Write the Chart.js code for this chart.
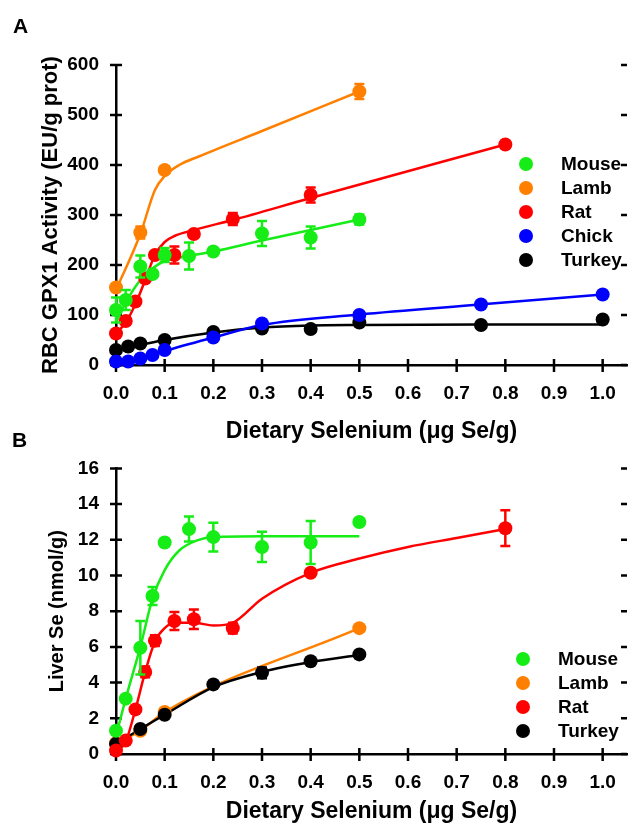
<!DOCTYPE html>
<html>
<head>
<meta charset="utf-8">
<script src="https://cdn.jsdelivr.net/npm/chart.js@4.4.1/dist/chart.umd.min.js"></script>
<style>
  html, body { margin:0; padding:0; background:#fff; }
  body { width:634px; height:828px; position:relative; overflow:hidden;
         font-family:"Liberation Sans", Arial, sans-serif; font-weight:bold; color:#000; }
  .panel { position:absolute; left:0; }
  .tag { position:absolute; font-size:21px; line-height:21px; }
  .legend { position:absolute; left:0; width:634px; font-size:19px; }
  .legend .row { position:relative; height:24px; line-height:24px; }
  .legend .dot { position:absolute; top:5px; width:14px; height:14px; border-radius:50%; }
  .legend .name { position:absolute; top:0; }
</style>
</head>
<body>
<div class="panel" style="top:0"><canvas id="chartA" width="634" height="452"></canvas></div>
<div class="panel" style="top:440px"><canvas id="chartB" width="634" height="388"></canvas></div>
<div class="tag" style="left:13px;top:15px">A</div>
<div class="tag" style="left:12px;top:429px">B</div>
<div class="legend" id="legendA" style="top:152px"></div>
<div class="legend" id="legendB" style="top:647px"></div>

<script>
'use strict';

// x ticks (µg Se/g)
const xTicks = [0, 0.1, 0.2, 0.3, 0.4, 0.5, 0.6, 0.7, 0.8, 0.9, 1.0];

// ---- Panel A : RBC GPX1 activity (EU/g prot) ----
const mouseA_x   = [0, 0.02, 0.05, 0.075, 0.1, 0.15, 0.2, 0.3, 0.4, 0.5];
const mouseA_y   = [110, 130, 197, 182, 220, 218, 227, 263, 255, 291];
const mouseA_err = [25, 20, 22, 0, 14, 27, 0, 25, 22, 10];
const mouseA_fitX = [0, 0.02, 0.05, 0.075, 0.1, 0.15, 0.2, 0.3, 0.4, 0.5];
const mouseA_fitY = [85, 125, 170, 193, 208, 218, 227, 249, 270, 291];

const lambA_x   = [0, 0.05, 0.1, 0.5];
const lambA_y   = [155, 265, 390, 547];
const lambA_err = [0, 12, 0, 15];
const lambA_fitX = [0, 0.05, 0.08, 0.1, 0.13, 0.17, 0.3, 0.5];
const lambA_fitY = [150, 262, 350, 378, 400, 417, 468, 547];

const ratA_x   = [0, 0.02, 0.04, 0.06, 0.08, 0.12, 0.16, 0.24, 0.4, 0.8];
const ratA_y   = [63, 88, 127, 173, 220, 220, 262, 292, 340, 441];
const ratA_err = [0, 0, 0, 0, 0, 17, 0, 12, 15, 6];
const ratA_fitX = [0, 0.02, 0.04, 0.06, 0.08, 0.1, 0.12, 0.16, 0.24, 0.4, 0.8];
const ratA_fitY = [63, 85, 122, 170, 220, 246, 258, 270, 290, 334, 441];

const chickA_x   = [0, 0.025, 0.05, 0.075, 0.1, 0.2, 0.3, 0.5, 0.75, 1.0];
const chickA_y   = [7, 7, 13, 20, 30, 55, 83, 100, 121, 141];
const chickA_err = [0, 0, 0, 0, 0, 0, 0, 0, 0, 0];
const chickA_fitX = [0, 0.05, 0.1, 0.2, 0.3, 0.5, 0.75, 1.0];
const chickA_fitY = [5, 12, 28, 55, 80, 101, 121, 141];

const turkeyA_x   = [0, 0.025, 0.05, 0.1, 0.2, 0.3, 0.4, 0.5, 0.75, 1.0];
const turkeyA_y   = [30, 37, 43, 50, 66, 73, 72, 85, 80, 91];
const turkeyA_err = [0, 0, 0, 0, 0, 0, 0, 0, 0, 0];
const turkeyA_fitX = [0, 0.05, 0.1, 0.2, 0.3, 0.4, 0.5, 0.75, 1.0];
const turkeyA_fitY = [30, 40, 50, 65, 75, 79, 80, 81, 81];

// ---- Panel B : Liver Se (nmol/g) ----
const mouseB_x   = [0, 0.02, 0.05, 0.075, 0.1, 0.15, 0.2, 0.3, 0.4, 0.5];
const mouseB_y   = [1.3, 3.1, 5.95, 8.85, 11.85, 12.6, 12.15, 11.6, 11.85, 13.0];
const mouseB_err = [0, 0, 1.5, 0.5, 0, 0.7, 0.8, 0.85, 1.2, 0];
const mouseB_fitX = [0, 0.02, 0.05, 0.075, 0.1, 0.13, 0.17, 0.2, 0.3, 0.5];
const mouseB_fitY = [1.0, 3.1, 6.0, 8.7, 10.3, 11.4, 12.0, 12.15, 12.2, 12.2];

const lambB_x   = [0, 0.05, 0.1, 0.5];
const lambB_y   = [0.6, 1.3, 2.35, 7.05];
const lambB_err = [0, 0, 0, 0];
const lambB_fitX = [0, 0.05, 0.1, 0.5];
const lambB_fitY = [0.6, 1.3, 2.35, 7.05];

const ratB_x   = [0, 0.02, 0.04, 0.06, 0.08, 0.12, 0.16, 0.24, 0.4, 0.8];
const ratB_y   = [0.2, 0.75, 2.5, 4.6, 6.35, 7.45, 7.55, 7.05, 10.15, 12.65];
const ratB_err = [0, 0, 0, 0.3, 0.3, 0.5, 0.55, 0.3, 0, 1.0];
const ratB_fitX = [0, 0.02, 0.04, 0.06, 0.08, 0.1, 0.12, 0.16, 0.2, 0.24, 0.3, 0.4, 0.5, 0.6, 0.7, 0.8];
const ratB_fitY = [0.1, 0.7, 2.5, 4.6, 6.3, 7.05, 7.35, 7.35, 7.2, 7.35, 8.7, 10.15, 10.95, 11.6, 12.1, 12.6];

const turkeyB_x   = [0, 0.05, 0.1, 0.2, 0.3, 0.4, 0.5];
const turkeyB_y   = [0.57, 1.4, 2.2, 3.9, 4.55, 5.2, 5.58];
const turkeyB_err = [0, 0, 0, 0, 0.3, 0, 0];
const turkeyB_fitX = [0, 0.05, 0.1, 0.2, 0.3, 0.4, 0.5];
const turkeyB_fitY = [0.55, 1.4, 2.2, 3.75, 4.6, 5.15, 5.55];

const COLORS = { Mouse:'#16ec16', Lamb:'#ff8000', Rat:'#ff0000', Chick:'#0000ff', Turkey:'#000000' };

const seriesA = [
  ['Mouse',  mouseA_x,  mouseA_y,  mouseA_err,  mouseA_fitX,  mouseA_fitY],
  ['Lamb',   lambA_x,   lambA_y,   lambA_err,   lambA_fitX,   lambA_fitY],
  ['Rat',    ratA_x,    ratA_y,    ratA_err,    ratA_fitX,    ratA_fitY],
  ['Chick',  chickA_x,  chickA_y,  chickA_err,  chickA_fitX,  chickA_fitY],
  ['Turkey', turkeyA_x, turkeyA_y, turkeyA_err, turkeyA_fitX, turkeyA_fitY],
];
const seriesB = [
  ['Mouse',  mouseB_x,  mouseB_y,  mouseB_err,  mouseB_fitX,  mouseB_fitY],
  ['Lamb',   lambB_x,   lambB_y,   lambB_err,   lambB_fitX,   lambB_fitY],
  ['Rat',    ratB_x,    ratB_y,    ratB_err,    ratB_fitX,    ratB_fitY],
  ['Turkey', turkeyB_x, turkeyB_y, turkeyB_err, turkeyB_fitX, turkeyB_fitY],
];
// black turkey points sit over the orange lamb ones in B
const drawOrderB = { Mouse:0, Rat:1, Turkey:2, Lamb:3 };

Chart.defaults.font.family = '"Liberation Sans", Arial, sans-serif';
Chart.defaults.font.weight = 'bold';
Chart.defaults.color = '#000';

const pts = (xs, ys) => xs.map((x, i) => ({ x, y: ys[i] }));

function buildDatasets(series, orderMap) {
  const out = [];
  series.forEach(([name, xs, ys, errs, fx, fy], i) => {
    const c = COLORS[name];
    const ord = orderMap ? orderMap[name] : i;
    out.push({
      type: 'scatter', label: name, data: pts(xs, ys), errors: errs,
      backgroundColor: c, borderColor: c, borderWidth: 0,
      pointRadius: 7, pointHoverRadius: 7, clip: false, order: ord,
    });
    out.push({
      type: 'line', label: name + ' fit', data: pts(fx, fy),
      borderColor: c, borderWidth: 2.5, pointRadius: 0, fill: false,
      cubicInterpolationMode: 'monotone', clip: false, order: 10 + ord,
    });
  });
  return out;
}

// vertical SEM bars, drawn just before each point set
const errorBars = {
  id: 'errorBars',
  beforeDatasetDraw(chart, args) {
    const ds = chart.data.datasets[args.index];
    if (!ds.errors) return;
    const { x: xs, y: ys } = chart.scales;
    const ctx = chart.ctx;
    ctx.save();
    ctx.strokeStyle = ds.borderColor;
    ctx.lineWidth = 2.5;
    ctx.beginPath();
    ds.data.forEach((p, i) => {
      const e = ds.errors[i];
      if (!e) return;
      const px = xs.getPixelForValue(p.x);
      const t = ys.getPixelForValue(p.y + e), b = ys.getPixelForValue(p.y - e);
      ctx.moveTo(px, t); ctx.lineTo(px, b);
      ctx.moveTo(px - 5, t); ctx.lineTo(px + 5, t);
      ctx.moveTo(px - 5, b); ctx.lineTo(px + 5, b);
    });
    ctx.stroke();
    ctx.restore();
  }
};

// tick marks crossing the axes, plus the ticks of the right-hand axis
const crossTicks = {
  id: 'crossTicks',
  beforeDatasetsDraw(chart) {
    const { ctx, chartArea: a, scales: { x, y } } = chart;
    ctx.save();
    ctx.strokeStyle = '#000';
    ctx.lineWidth = 2.5;
    ctx.beginPath();
    x.ticks.forEach(t => {
      const px = x.getPixelForValue(t.value);
      ctx.moveTo(px, a.bottom - 6); ctx.lineTo(px, a.bottom + 7);
    });
    y.ticks.forEach(t => {
      const py = y.getPixelForValue(t.value);
      ctx.moveTo(a.left - 6, py); ctx.lineTo(a.left + 6, py);
      ctx.moveTo(a.right - 6, py); ctx.lineTo(a.right, py);
    });
    ctx.stroke();
    ctx.restore();
  }
};

function makeChart(id, series, orderMap, cfg) {
  return new Chart(document.getElementById(id), {
    type: 'scatter',
    data: { datasets: buildDatasets(series, orderMap) },
    plugins: [crossTicks, errorBars],
    options: {
      responsive: false, animation: false, events: [],
      layout: { padding: { top: cfg.top, right: 0, bottom: 0, left: 0 } },
      plugins: { legend: { display: false }, tooltip: { enabled: false } },
      scales: {
        x: {
          type: 'linear', min: 0, max: 1.05,
          afterBuildTicks: s => { s.ticks = xTicks.map(v => ({ value: v })); },
          afterFit: s => { s.height = cfg.xHeight; },
          ticks: { padding: 17, font: { size: 19 }, maxRotation: 0, autoSkip: false,
                   callback: v => Number(v).toFixed(1) },
          grid: { display: true, drawOnChartArea: false, drawTicks: false },
          border: { display: true, color: '#000', width: 2.5 },
          title: { display: true, text: 'Dietary Selenium (μg Se/g)',
                   font: { size: 23, lineHeight: 1 }, padding: { top: 0, bottom: cfg.xTitlePad } },
        },
        y: {
          type: 'linear', min: 0, max: cfg.yMax,
          afterBuildTicks: s => { s.ticks = cfg.yTicks.map(v => ({ value: v })); },
          afterFit: s => { s.width = 116; },
          ticks: { padding: 17, font: { size: 19 } },
          grid: { display: true, drawOnChartArea: false, drawTicks: false },
          border: { display: true, color: '#000', width: 2.5 },
          title: { display: true, text: cfg.yTitle,
                   font: { size: cfg.yTitleSize, lineHeight: 1 }, padding: { top: cfg.yTitlePad, bottom: 0 } },
        }
      }
    }
  });
}

const yTicksA = [0, 100, 200, 300, 400, 500, 600];
const yTicksB = [0, 2, 4, 6, 8, 10, 12, 14, 16];

makeChart('chartA', seriesA, null, {
  top: 65, xHeight: 87, xTitlePad: 9,
  yMax: 600, yTicks: yTicksA, yTitle: 'RBC GPX1 Activity (EU/g prot)', yTitleSize: 22, yTitlePad: 40,
});
makeChart('chartB', seriesB, drawOrderB, {
  top: 14, xHeight: 74, xTitlePad: 5,
  yMax: 16, yTicks: yTicksB, yTitle: 'Liver Se (nmol/g)', yTitleSize: 20, yTitlePad: 47,
});

// legends
function renderLegend(id, series, dotLeft, textLeft) {
  document.getElementById(id).innerHTML = series.map(([name]) => `
    <div class="row">
      <span class="dot" style="left:${dotLeft}px;background:${COLORS[name]}"></span>
      <span class="name" style="left:${textLeft}px">${name}</span>
    </div>`).join('');
}
renderLegend('legendA', seriesA, 519, 561);
renderLegend('legendB', seriesB, 516, 558);
</script>
</body>
</html>
